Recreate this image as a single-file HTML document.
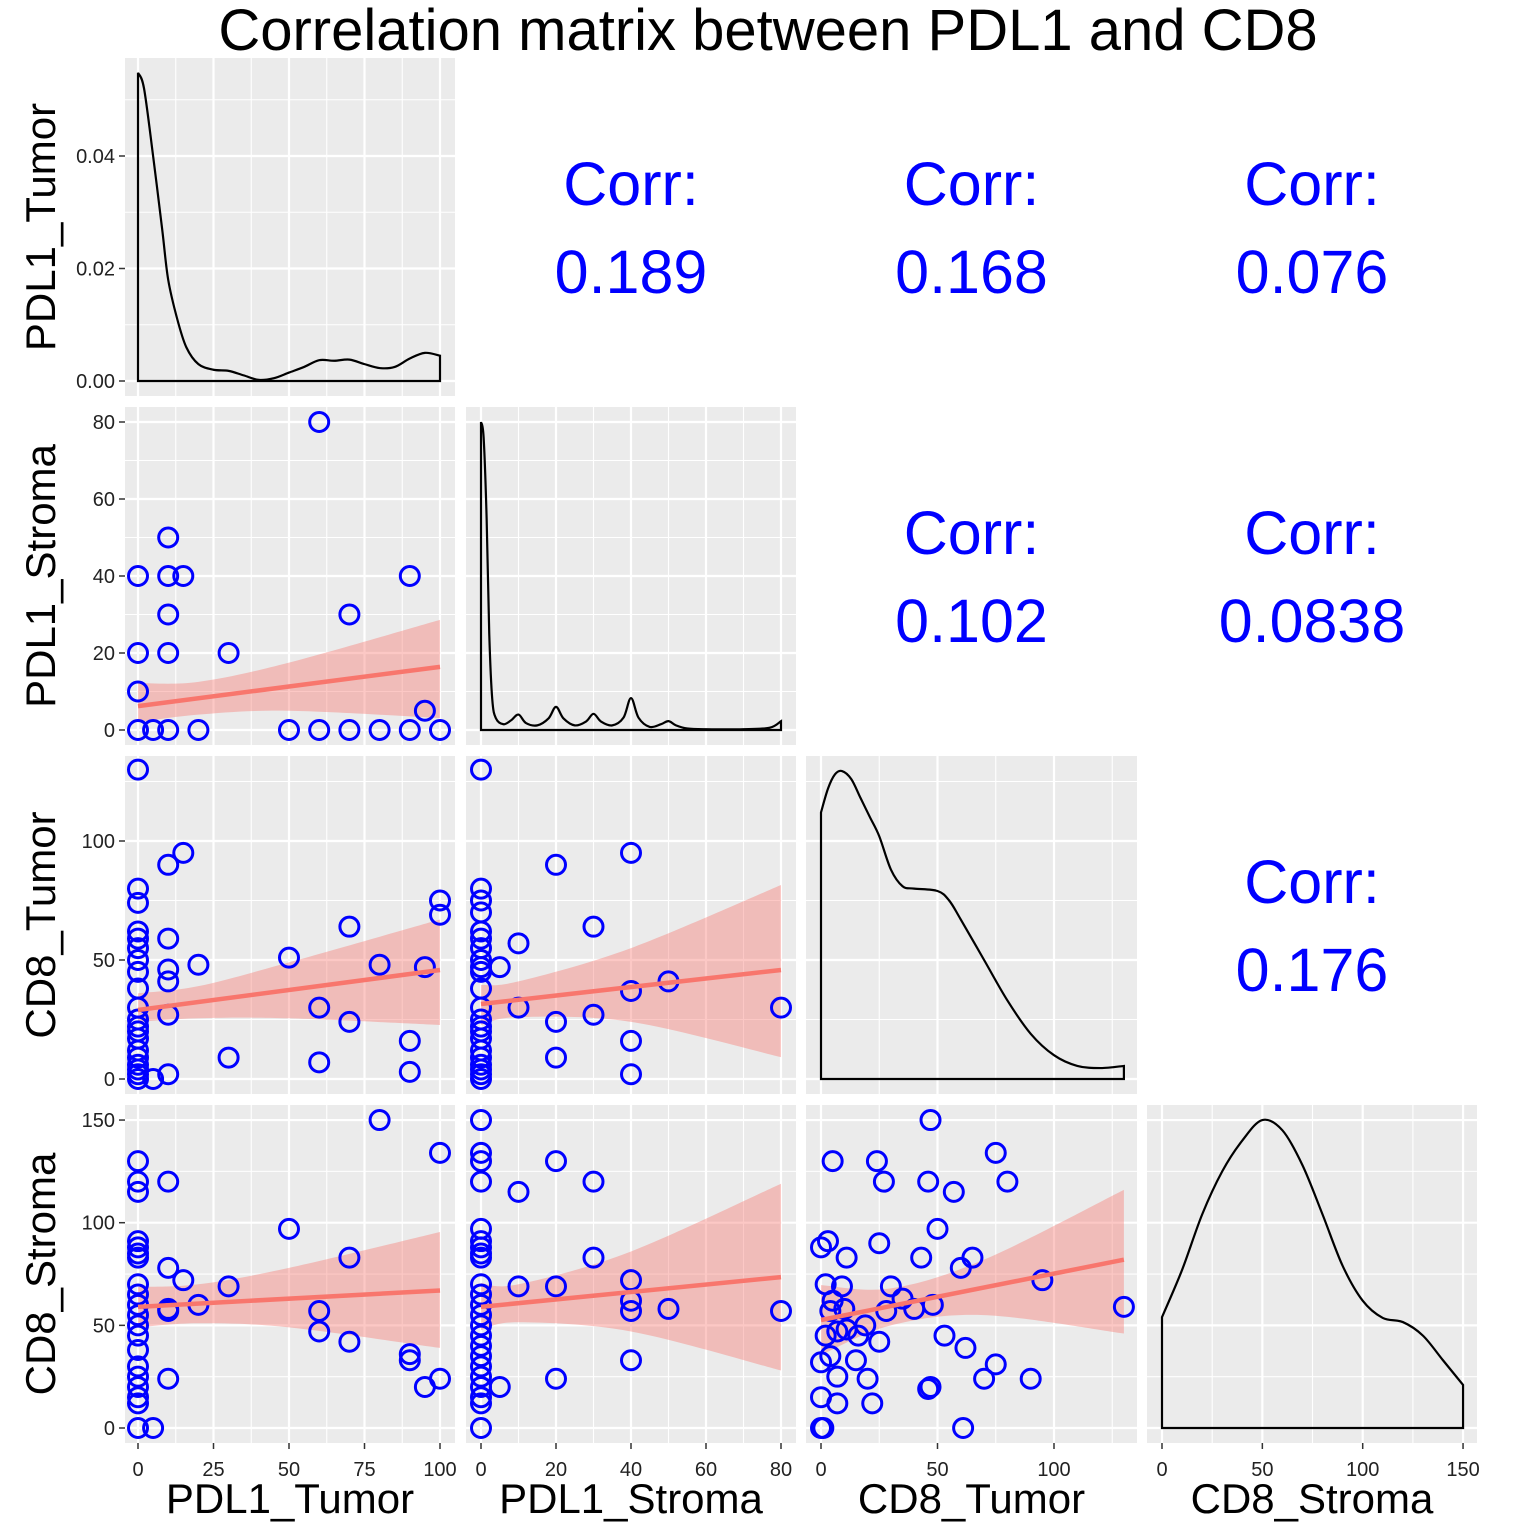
<!DOCTYPE html>
<html><head><meta charset="utf-8"><style>
html,body{margin:0;padding:0;background:#fff}
svg{display:block;font-family:"Liberation Sans",Arial,sans-serif}
</style></head><body>
<svg id="c" width="1536" height="1536" viewBox="0 0 1536 1536"></svg>
<script>
// ---- data ----
const varNames = ["PDL1_Tumor","PDL1_Stroma","CD8_Tumor","CD8_Stroma"];
const corrValues = {"0-1":"0.189","0-2":"0.168","0-3":"0.076","1-2":"0.102","1-3":"0.0838","2-3":"0.176"};
const ticksPT = [0,25,50,75,100];
const ticksPS = [0,20,40,60,80];
const ticksCT = [0,50,100];
const ticksCS = [0,50,100,150];
const ticksDens = [0,0.02,0.04];
const tickLabelsDens = ["0.00","0.02","0.04"];
// scatter: [x,y]
const ptVsPs = [[0,40],[0,20],[0,10],[0,0],[5,0],[10,0],[10,50],[10,40],[15,40],[10,30],[10,20],[30,20],[20,0],[60,80],[70,30],[90,40],[95,5],[50,0],[60,0],[70,0],[80,0],[90,0],[100,0]];
const ptVsCt = [[0,130],[0,80],[0,74],[0,62],[0,59],[0,55],[0,50],[0,45],[0,38],[0,30],[0,25],[0,22],[0,20],[0,17],[0,12],[0,9],[0,6],[0,4],[0,2],[0,0],[5,0],[10,90],[10,59],[10,46],[10,41],[10,27],[10,2],[15,95],[20,48],[30,9],[50,51],[60,30],[60,7],[70,64],[70,24],[80,48],[90,16],[90,3],[95,47],[100,75],[100,69]];
const ptVsCs = [[0,130],[0,120],[0,115],[0,91],[0,88],[0,85],[0,83],[0,70],[0,65],[0,60],[0,55],[0,50],[0,45],[0,38],[0,30],[0,25],[0,20],[0,15],[0,12],[0,0],[5,0],[10,120],[10,78],[10,58],[10,57],[10,24],[15,72],[20,60],[30,69],[50,97],[60,57],[60,47],[70,83],[70,42],[80,150],[90,36],[90,33],[95,20],[100,134],[100,24]];
const psVsCt = [[0,130],[0,80],[0,75],[0,70],[0,62],[0,59],[0,55],[0,50],[0,47],[0,45],[0,38],[0,30],[0,25],[0,22],[0,20],[0,17],[0,12],[0,9],[0,6],[0,4],[0,2],[0,0],[5,47],[10,30],[10,57],[20,90],[20,24],[20,9],[30,64],[30,27],[40,95],[40,37],[40,16],[40,2],[50,41],[80,30]];
const psVsCs = [[0,150],[0,134],[0,130],[0,120],[0,97],[0,91],[0,88],[0,85],[0,83],[0,70],[0,65],[0,60],[0,55],[0,50],[0,45],[0,40],[0,35],[0,30],[0,25],[0,20],[0,15],[0,12],[0,0],[5,20],[10,115],[10,69],[20,130],[20,69],[20,24],[30,120],[30,83],[40,72],[40,62],[40,57],[40,33],[50,58],[80,57]];
const ctVsCs = [[47,150],[5,130],[24,130],[75,134],[46,120],[27,120],[80,120],[57,115],[0,88],[3,91],[25,90],[50,97],[43,83],[11,83],[65,83],[60,78],[2,70],[9,69],[30,69],[95,72],[35,63],[5,62],[48,60],[4,57],[10,58],[40,58],[28,57],[130,59],[2,45],[7,47],[19,50],[11,48],[16,45],[53,45],[25,42],[62,39],[4,35],[15,33],[0,32],[75,31],[7,25],[20,24],[70,24],[90,24],[47,20],[46,19],[0,15],[7,12],[22,12],[0,0],[1,0],[61,0]];
// regression fits: [x, fit, lower, upper]
const fitPtPs = [[0,6.2,2,12.2],[20,8.2,4,12.5],[50,11.3,5,17.5],[100,16.4,3.1,28.6]];
const fitPtCt = [[0,29,24,36],[20,32.3,25.5,39],[50,37.4,25.5,49],[100,45.8,22.7,67]];
const fitPtCs = [[0,59,49,68.7],[20,60.6,51,70],[50,63,49,78],[100,67,39,95.5]];
const fitPsCt = [[0,31.5,22.7,39.5],[10,33.3,26,41],[40,38.5,24,55],[80,45.8,9.2,81.5]];
const fitPsCs = [[0,59,47.7,70.6],[10,60.8,51.5,70],[40,66.3,47,86],[80,73.5,28,119]];
const fitCtCs = [[0,52.6,35.6,69.6],[30,59.3,50,68],[70,68.3,55,82],[130,82,46,116]];
// densities: [x, y]
const densPT = [[0,0.0548],[2,0.052],[5,0.04],[8,0.027],[10,0.018],[13,0.011],[16,0.006],[20,0.003],[25,0.002],[30,0.0018],[35,0.001],[40,0.0002],[45,0.0005],[50,0.0015],[55,0.0025],[60,0.0037],[65,0.0036],[70,0.0038],[75,0.003],[80,0.0023],[85,0.0025],[90,0.004],[95,0.005],[100,0.0045]];
const densPS = [[0,80],[0.7,76],[1.5,55],[2.2,25],[3,8],[4,3],[6,1.5],[8,2.5],[10,4],[12,1.8],[15,1.2],[18,3],[20,6],[22,3],[25,1.2],[28,2.2],[30,4.2],[32,2.2],[35,1.2],[38,3.2],[40,8.3],[42,3.2],[45,0.8],[48,1.5],[50,2.3],[52,1.2],[55,0.4],[60,0.2],[70,0.2],[77,0.6],[80,2.3]];
const densCT = [[0,112],[3,122],[6,128],[9,129.4],[13,126],[17,118],[21,110],[25,102],[30,88],[35,81],[40,80],[50,79],[55,75],[60,67],[70,50],[80,33],[90,19],[100,10],[110,5.5],[120,4.6],[130,5.5]];
const densCS = [[0,54],[10,77],[20,104],[30,125],[40,140],[50,150],[60,145],[70,128],[80,104],[90,79],[100,62],[110,53.6],[120,51.6],[130,45],[140,33],[150,21]];

// ---- layout ----
const svg = document.getElementById('c');
const NS = 'http://www.w3.org/2000/svg';
const colX = [[125,455],[466,796],[806,1137],[1147,1477]];
const rowY = [[58,396],[407,745],[756,1094],[1105,1443]];
const xAx = [[138,3.02],[481,3.75],[821,2.33],[1162,2.007]];
const yAx = [[381,5625],[730,3.85],[1079,2.38],[1428,2.053]];
const X = (c,v)=>xAx[c][0]+v*xAx[c][1];
const Y = (r,v)=>yAx[r][0]-v*yAx[r][1];
const xTicks = [ticksPT,ticksPS,ticksCT,ticksCS];
const yTicks = [ticksDens,ticksPS,ticksCT,ticksCS];
function el(tag, attrs, parent){const e=document.createElementNS(NS,tag);for(const k in attrs)e.setAttribute(k,attrs[k]);(parent||svg).appendChild(e);return e;}
function smooth(P){ // catmull-rom through pixel points
  let d='';
  for(let i=0;i<P.length-1;i++){
    const p0=P[Math.max(0,i-1)],p1=P[i],p2=P[i+1],p3=P[Math.min(P.length-1,i+2)];
    const c1=[p1[0]+(p2[0]-p0[0])/6,p1[1]+(p2[1]-p0[1])/6];
    const c2=[p2[0]-(p3[0]-p1[0])/6,p2[1]-(p3[1]-p1[1])/6];
    d+=' C'+c1[0]+','+c1[1]+' '+c2[0]+','+c2[1]+' '+p2[0]+','+p2[1];
  }
  return d;
}

const t = el('text',{x:768,y:50,'text-anchor':'middle','font-size':58,fill:'#000'});
t.textContent='Correlation matrix between PDL1 and CD8';



for(let r=0;r<4;r++){
  for(let c=0;c<4;c++){
    const [x0,x1]=colX[c],[y0,y1]=rowY[r];
    const g = el('g',{});
    
    
    if(c>r){
      const cx=(x0+x1)/2, cy=(y0+y1)/2;
      const a=el('text',{x:cx,y:cy-22,'text-anchor':'middle','font-size':61,fill:'#0000FF'},g);
      a.textContent='Corr:';
      
      
      const b=el('text',{x:cx,y:cy+66,'text-anchor':'middle','font-size':61,fill:'#0000FF'},g);
      b.textContent=corrValues[r+'-'+c];
      
      
      continue;
    }
    el('rect',{x:x0,y:y0,width:x1-x0,height:y1-y0,fill:'#EBEBEB'},g);
    const cp=el('clipPath',{id:'cp'+r+c},g);
    el('rect',{x:x0,y:y0,width:x1-x0,height:y1-y0},cp);
    const inner=el('g',{'clip-path':'url(#cp'+r+c+')'},g);
    const xt=xTicks[c], yt=yTicks[r];
    const xs=xt[1]-xt[0], ys=yt[1]-yt[0];
    for(let v=xt[0]-xs/2; X(c,v)<=x1+1; v+=xs/2){
      const major = Math.abs((v/xs)-Math.round(v/xs))<1e-6;
      const px=X(c,v); if(px<x0) continue;
      el('line',{x1:px,x2:px,y1:y0,y2:y1,stroke:'#fff','stroke-width':major?2.2:1.1},inner);
    }
    for(let v=yt[0]-ys/2; Y(r,v)>=y0-1; v+=ys/2){
      const major = Math.abs((v/ys)-Math.round(v/ys))<1e-6;
      const py=Y(r,v); if(py>y1) continue;
      el('line',{x1:x0,x2:x1,y1:py,y2:py,stroke:'#fff','stroke-width':major?2.2:1.1},inner);
    }
    if(r===c){
      const d=[densPT,densPS,densCT,densCS][r];
      const P=d.map(q=>[X(c,q[0]),Y(r,q[1])]);
      let p='M'+P[0][0]+','+Y(r,0)+' L'+P[0][0]+','+P[0][1]+smooth(P);
      p+=' L'+P[P.length-1][0]+','+Y(r,0)+' Z';
      const dp=el('path',{d:p,fill:'none',stroke:'#000','stroke-width':2.2},inner);
      
      
    } else {
      const key=c+'-'+r;
      const pts={'0-1':ptVsPs,'0-2':ptVsCt,'0-3':ptVsCs,'1-2':psVsCt,'1-3':psVsCs,'2-3':ctVsCs}[key];
      const fit={'0-1':fitPtPs,'0-2':fitPtCt,'0-3':fitPtCs,'1-2':fitPsCt,'1-3':fitPsCs,'2-3':fitCtCs}[key];
      const up=fit.map(f=>[X(c,f[0]),Y(r,f[3])]);
      const lo=fit.map(f=>[X(c,f[0]),Y(r,f[2])]).reverse();
      const bp='M'+up[0][0]+','+up[0][1]+smooth(up)+' L'+lo[0][0]+','+lo[0][1]+smooth(lo)+' Z';
      const band=el('path',{d:bp,fill:'#F8766D','fill-opacity':0.4,stroke:'none'},inner);
      
      
      pts.forEach(q=>{
        const ci=el('circle',{cx:X(c,q[0]),cy:Y(r,q[1]),r:9.5,fill:'none',stroke:'#0000FF','stroke-width':3},inner);
        
        
      });
      const f0=fit[0],f1=fit[fit.length-1];
      const ln=el('line',{x1:X(c,f0[0]),y1:Y(r,f0[1]),x2:X(c,f1[0]),y2:Y(r,f1[1]),stroke:'#F8766D','stroke-width':4.5},inner);
      
      
    }
  }
}
for(let r=0;r<4;r++){
  yTicks[r].forEach((v,i)=>{
    const py=Y(r,v);
    el('line',{x1:119,x2:125,y1:py,y2:py,stroke:'#333','stroke-width':1.5});
    const tx=el('text',{x:115,y:py+7,'text-anchor':'end','font-size':20,fill:'#222'});
    tx.textContent = r===0 ? tickLabelsDens[i] : String(v);
    
    
  });
  const cy=(rowY[r][0]+rowY[r][1])/2;
  const yt=el('text',{x:0,y:0,'text-anchor':'middle','font-size':42,fill:'#000',transform:'translate(55,'+cy+') rotate(-90)'});
  yt.textContent=varNames[r];
  
  
}
for(let c=0;c<4;c++){
  xTicks[c].forEach(v=>{
    const px=X(c,v);
    el('line',{x1:px,x2:px,y1:1443,y2:1449,stroke:'#333','stroke-width':1.5});
    const tx=el('text',{x:px,y:1476,'text-anchor':'middle','font-size':20,fill:'#222'});
    tx.textContent=String(v);
    
    
  });
  const cx=(colX[c][0]+colX[c][1])/2;
  const xt=el('text',{x:cx,y:1513,'text-anchor':'middle','font-size':42,fill:'#000'});
  xt.textContent=varNames[c];
  
  
}
</script>
</body></html>
